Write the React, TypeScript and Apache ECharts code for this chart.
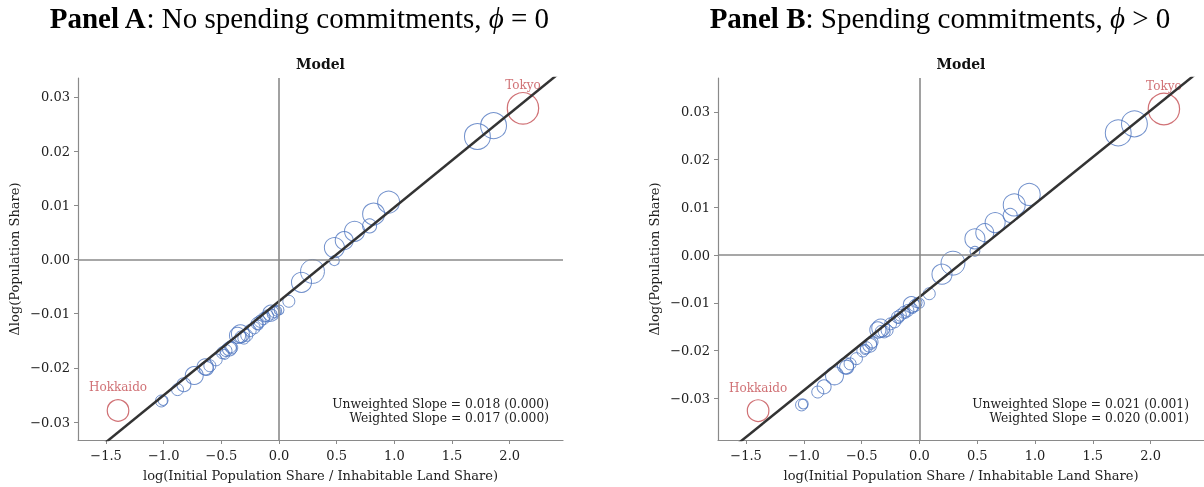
import React, { useEffect, useRef } from "react";
import * as echarts from "echarts";

// ---- data ----
// log(initial population share / inhabitable land share), shared by both panels
const xShare = [
  1.86, 1.72, 0.95, 0.82, 0.785, 0.655, 0.565, 0.48, 0.48, 0.29,
  0.195, 0.085, 0.0, -0.04, -0.07, -0.1, -0.135, -0.165, -0.19, -0.215,
  -0.25, -0.335, -0.305, -0.33, -0.41, -0.43, -0.46, -0.49, -0.545, -0.64,
  -0.63, -0.735, -0.825, -0.88, -1.02, -1.005, -0.42, -0.02, -0.12, -0.28,
  -0.47, -0.18, -0.06, -0.36, -0.6,
];
// Δlog(population share), panel A (phi = 0)
const dlogA = [
  0.0247, 0.0227, 0.0106, 0.0084, 0.0062, 0.0052, 0.0035, 0.0022, -0.0002, -0.0022,
  -0.0042, -0.0077, -0.0093, -0.0096, -0.0099, -0.0104, -0.0109, -0.0114, -0.0118, -0.0126,
  -0.0131, -0.0137, -0.0145, -0.0143, -0.0163, -0.0165, -0.0168, -0.0172, -0.0185, -0.0198,
  -0.0201, -0.0214, -0.0231, -0.024, -0.0261, -0.026, -0.0161, -0.0095, -0.0106, -0.014,
  -0.0175, -0.0121, -0.0101, -0.014, -0.0196,
];
// Δlog(population share), panel B (phi > 0)
const dlogB = [
  0.0275, 0.0256, 0.0127, 0.0105, 0.0083, 0.0068, 0.0047, 0.0034, 0.0008, -0.0017,
  -0.004, -0.0081, -0.0101, -0.0106, -0.0104, -0.0116, -0.012, -0.0126, -0.013, -0.014,
  -0.0144, -0.0153, -0.0161, -0.016, -0.0182, -0.0189, -0.0194, -0.0201, -0.0217, -0.0232,
  -0.0235, -0.0253, -0.0276, -0.0287, -0.0314, -0.0312, -0.0185, -0.01, -0.0122, -0.0158,
  -0.0198, -0.0133, -0.0112, -0.0157, -0.0228,
];
// population share (%), drives circle area
const popShare = [
  7.5, 7.5, 5.4, 5.4, 2.2, 4.5, 3.6, 4.5, 1.1, 6.4,
  4.5, 1.6, 1.1, 1.6, 2.9, 1.6, 1.6, 1.6, 1.6, 1.6,
  1.6, 3.6, 1.6, 1.6, 1.6, 2.2, 1.6, 1.6, 1.6, 2.9,
  2.2, 3.6, 2.2, 1.6, 1.6, 1.1, 1.6, 1.1, 1.1, 1.6,
  1.1, 1.1, 1.1, 2.9, 1.6,
];

const hlNames = ["Tokyo", "Hokkaido"];
const hlX = [2.115, -1.396];
const hlA = [0.0279, -0.02785];
const hlB = [0.0306, -0.0326];
const hlPop = [11.0, 5.2];

const xTicks = [-1.5, -1.0, -0.5, 0.0, 0.5, 1.0, 1.5, 2.0];
const yTicks = [-0.03, -0.02, -0.01, 0.0, 0.01, 0.02, 0.03];
const xRange = [-1.743, 2.462];
const yRangeA = [-0.0333, 0.0335];
const yRangeB = [-0.03875, 0.0371];
const fitA = [0.01733, -0.0077]; // slope, intercept
const fitB = [0.01955, -0.0088];

const statsA = ["Unweighted Slope = 0.018 (0.000)", "Weighted Slope = 0.017 (0.000)"];
const statsB = ["Unweighted Slope = 0.021 (0.001)", "Weighted Slope = 0.020 (0.001)"];

const SERIF = "DejaVu Serif";
const BLUE = "#4f76bf";
const RED = "#c44e52";
const GRAY = "#8a8a8a";

const sizeOf = (p: number) => 2 * 4.73 * Math.sqrt(p);
const minus = (s: string) => s.replace("-", "\u2212");

export default function App() {
  const ref = useRef<HTMLDivElement>(null);
  useEffect(() => {
    if (!ref.current) return;
    const chart = echarts.init(ref.current, null, { renderer: "svg" });

    const grids = [
      { left: 78, top: 78, width: 485, height: 364 },
      { left: 718, top: 78, width: 486, height: 364 },
    ];

    const mkX = (gi: number) => ({
      type: "value",
      gridIndex: gi,
      min: xRange[0],
      max: xRange[1],
      splitLine: { show: false },
      axisLine: { show: true, onZero: false, lineStyle: { color: GRAY, width: 1.2 } },
      axisTick: { show: true, length: 4, customValues: xTicks, lineStyle: { color: GRAY } },
      axisLabel: {
        customValues: xTicks,
        margin: 9,
        color: "#222",
        fontFamily: SERIF,
        fontSize: 13,
        formatter: (v: number) => minus(v.toFixed(1)),
      },
      name: "log(Initial Population Share / Inhabitable Land Share)",
      nameLocation: "middle",
      nameGap: 29,
      nameTextStyle: { color: "#222", fontFamily: SERIF, fontSize: 13, verticalAlign: "top" },
    });
    const mkY = (gi: number, r: number[]) => ({
      type: "value",
      gridIndex: gi,
      min: r[0],
      max: r[1],
      splitLine: { show: false },
      axisLine: { show: true, onZero: false, lineStyle: { color: GRAY, width: 1.2 } },
      axisTick: { show: true, length: 4, customValues: yTicks, lineStyle: { color: GRAY } },
      axisLabel: {
        customValues: yTicks,
        margin: 8,
        color: "#222",
        fontFamily: SERIF,
        fontSize: 13,
        formatter: (v: number) => minus(v.toFixed(2)),
      },
      name: "\u0394log(Population Share)",
      nameLocation: "middle",
      nameGap: 57,
      nameTextStyle: { color: "#222", fontFamily: SERIF, fontSize: 13 },
    });

    const panelSeries = (gi: number, ys: number[], hys: number[], fit: number[]) => [
      {
        type: "scatter",
        xAxisIndex: gi,
        yAxisIndex: gi,
        data: xShare.map((x, i) => [x, ys[i], popShare[i]]),
        symbol: "circle",
        symbolSize: (d: number[]) => sizeOf(d[2]),
        itemStyle: { color: "rgba(0,0,0,0)", borderColor: BLUE, borderWidth: 1 },
        emphasis: { disabled: true },
        silent: true,
        z: 3,
        markLine: {
          silent: true,
          symbol: "none",
          label: { show: false },
          lineStyle: { color: GRAY, type: "solid", width: 1.6 },
          data: [{ xAxis: 0 }, { yAxis: 0 }],
        },
      },
      {
        type: "scatter",
        xAxisIndex: gi,
        yAxisIndex: gi,
        data: hlX.map((x, i) => ({ value: [x, hys[i], hlPop[i]], name: hlNames[i] })),
        symbol: "circle",
        symbolSize: (d: number[]) => sizeOf(d[2]),
        itemStyle: { color: "rgba(0,0,0,0)", borderColor: RED, borderWidth: 1.2 },
        label: {
          show: true,
          position: "inside",
          offset: [0, -23],
          formatter: (p: any) => p.name,
          color: RED,
          fontFamily: SERIF,
          fontSize: 12,
        },
        emphasis: { disabled: true },
        silent: true,
        z: 3,
      },
      {
        type: "line",
        xAxisIndex: gi,
        yAxisIndex: gi,
        data: xRange.map((x) => [x, fit[0] * x + fit[1]]),
        showSymbol: false,
        symbol: "none",
        clip: true,
        lineStyle: { color: "#333", width: 2.5 },
        silent: true,
        z: 4,
      },
    ];

    const statText = (right: number, lines: string[]) =>
      lines.map((t, i) => ({
        type: "text",
        x: right,
        y: 404 + i * 13.5,
        style: {
          text: t,
          fill: "#222",
          font: `12.3px "${SERIF}"`,
          textAlign: "right",
          textVerticalAlign: "middle",
        },
      }));

    const titleRich = {
      b: { fontFamily: "Liberation Serif", fontSize: 29, fontWeight: "bold", color: "#111" },
      r: { fontFamily: "Liberation Serif", fontSize: 29, color: "#111" },
      i: { fontFamily: "Liberation Serif", fontSize: 29, fontStyle: "italic", color: "#111" },
    };

    chart.setOption({
      animation: false,
      grid: grids,
      xAxis: [mkX(0), mkX(1)],
      yAxis: [mkY(0, yRangeA), mkY(1, yRangeB)],
      series: [...panelSeries(0, dlogA, hlA, fitA), ...panelSeries(1, dlogB, hlB, fitB)],
      graphic: [
        {
          type: "text",
          x: 299,
          y: 18,
          style: {
            text: "{b|Panel A}{r|: No spending commitments, }{i|\u03d5}{r| = 0}",
            rich: titleRich,
            textAlign: "center",
            textVerticalAlign: "middle",
          },
        },
        {
          type: "text",
          x: 940,
          y: 18,
          style: {
            text: "{b|Panel B}{r|: Spending commitments, }{i|\u03d5}{r| > 0}",
            rich: titleRich,
            textAlign: "center",
            textVerticalAlign: "middle",
          },
        },
        {
          type: "text",
          x: 320.5,
          y: 64,
          style: { text: "Model", fill: "#111", font: `bold 14px "${SERIF}"`, textAlign: "center", textVerticalAlign: "middle" },
        },
        {
          type: "text",
          x: 961,
          y: 64,
          style: { text: "Model", fill: "#111", font: `bold 14px "${SERIF}"`, textAlign: "center", textVerticalAlign: "middle" },
        },
        ...statText(549, statsA),
        ...statText(1189, statsB),
      ],
    });
    return () => chart.dispose();
  }, []);
  return <div ref={ref} style={{ position: "fixed", left: 0, top: 0, width: 1204, height: 487 }} />;
}
